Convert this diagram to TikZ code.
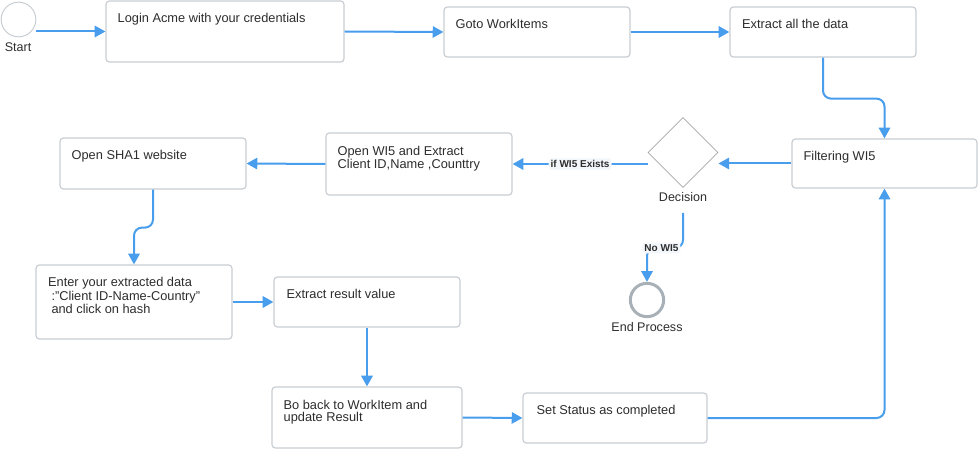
\documentclass[tikz,border=0pt]{standalone}
\usepackage{fontspec}
\setmainfont{Liberation Sans}
\usepackage{tikz}
\usetikzlibrary{arrows.meta, positioning, shapes.geometric, calc}
\definecolor{flowblue}{RGB}{72,157,236}
\definecolor{boxgray}{RGB}{200,206,211}
\definecolor{txtgray}{RGB}{45,45,45}
\definecolor{endgray}{RGB}{169,177,184}
\definecolor{lblback}{RGB}{243,247,251}

\begin{document}
\begin{tikzpicture}[x=0.75pt,y=-0.75pt]
    \tikzstyle{box}=[draw=boxgray,line width=0.9pt,rounded corners=2.5pt,fill=white]
    \tikzstyle{btext}=[anchor=north west,inner sep=0pt,align=left,text=txtgray,font=\fontsize{9.6}{8.8}\selectfont]
    \tikzstyle{caption}=[inner sep=0pt,text=txtgray,font=\fontsize{9.4}{10}\selectfont]
    \tikzstyle{flow}=[draw=flowblue,line width=1.5pt,rounded corners=6pt,-{Triangle[length=8pt,width=8.5pt]}]
    \tikzstyle{cond}=[fill=lblback,rounded corners=2pt,inner sep=1.5pt,text=txtgray,font=\bfseries\fontsize{7.5}{9}\selectfont]

    \useasboundingbox (0,0) rectangle (978,449);

    % start / end events
    \node[circle,draw=boxgray,line width=0.75pt,minimum size=26pt,inner sep=0pt] (start) at (18.5,19.5) {};
    \node[caption] (startL) at (18,47) {Start};
    \node[circle,draw=endgray,line width=2.25pt,minimum size=25pt,inner sep=0pt] (endc) at (647,300) {};
    \node[caption] (endL) at (647,327.5) {End Process};

    % top row
    \node[box,minimum width=178.5pt,minimum height=45.75pt] (login) at (225,31.5) {};
    \node[box,minimum width=139.5pt,minimum height=37.5pt] (goto) at (537,32) {};
    \node[box,minimum width=139.5pt,minimum height=37.5pt] (extract) at (823,32) {};

    % middle row
    \node[box,minimum width=138.75pt,minimum height=36.75pt] (filter) at (884.5,163.5) {};
    \node[diamond,draw=gray!70,line width=0.6pt,minimum size=52.5pt,inner sep=0pt] (dec) at (683,152.5) {};
    \node[caption] (decL) at (683,197.5) {Decision};
    \node[box,minimum width=139.5pt,minimum height=46.5pt] (wi5) at (419,164) {};
    \node[box,minimum width=139.5pt,minimum height=38.25pt] (sha) at (153,163.5) {};

    % lower rows
    \node[box,minimum width=147pt,minimum height=55.5pt] (enter) at (134,302) {};
    \node[box,minimum width=139.5pt,minimum height=37.5pt] (result) at (367,302) {};
    \node[box,minimum width=142.5pt,minimum height=45.75pt] (goback) at (367,417.5) {};
    \node[box,minimum width=138pt,minimum height=37.5pt] (status) at (615,418) {};

    % box texts
    \node[btext] (loginT) at ($(login.north west)+(12,13)$) {Login Acme with your credentials};
    \node[btext] (gotoT) at ($(goto.north west)+(12,13)$) {Goto WorkItems};
    \node[btext] (extractT) at ($(extract.north west)+(12.5,13)$) {Extract all the data};
    \node[btext] (filterT) at ($(filter.north west)+(12,12.5)$) {Filtering WI5};
    \node[btext] (wi5T) at ($(wi5.north west)+(12,13.5)$) {Open WI5 and Extract\\Client ID,Name ,Counttry};
    \node[btext] (shaT) at ($(sha.north west)+(12,13)$) {Open SHA1 website};
    \node[btext] (enterT) at ($(enter.north west)+(12.5,13)$) {Enter your extracted data\\\hspace*{2.5pt}:\char34 Client ID-Name-Country\char34\\\hspace*{2.5pt}and click on hash};
    \node[btext] (resultT) at ($(result.north west)+(13,13)$) {Extract result value};
    \node[btext] (gobackT) at ($(goback.north west)+(12,13.5)$) {Bo back to WorkItem and\\update Result};
    \node[btext] (statusT) at ($(status.north west)+(14,13)$) {Set Status as completed};

    \coordinate (nostart) at (683,213);

    \draw[flow] (start.east |- login.west) -- (login.west);
    \draw[flow] (login.east) -- (goto.west);
    \draw[flow] (goto.east) -- (extract.west);
    \draw[flow] (extract.south) -- ++(0,41) -| (filter.north);
    \draw[flow] (filter.west) -- (filter.west -| dec.east);
    \draw[flow] (dec.west |- wi5.east) -- node[cond] {if WI5 Exists} (wi5.east);
    \draw[flow] (nostart) -- ++(0,35) -| node[cond,pos=0.3] {No WI5} (endc.north);
    \draw[flow] (wi5.west) -- (sha.east);
    \draw[flow] (sha.south) -- ++(0,38) -| (enter.north);
    \draw[flow] (enter.east) -- (result.west);
    \draw[flow] (result.south) -- (goback.north);
    \draw[flow] (goback.east) -- (status.west);
    \draw[flow] (status.east) -| (filter.south);

\end{tikzpicture}
\end{document}
